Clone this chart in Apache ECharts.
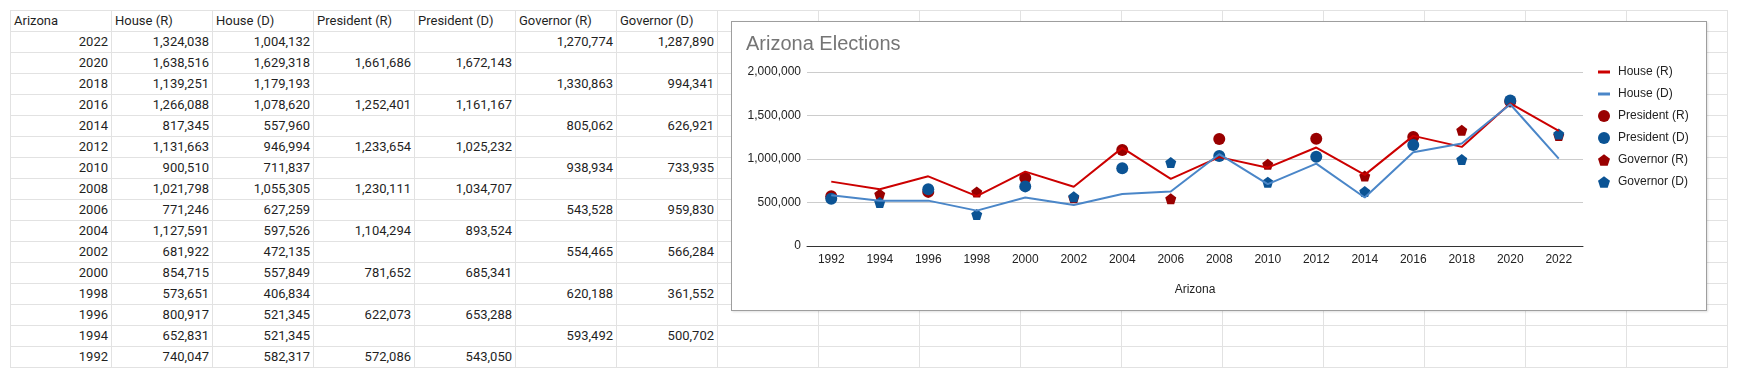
<!DOCTYPE html>
<html>
<head>
<meta charset="utf-8">
<script src="https://cdn.jsdelivr.net/npm/echarts@6/dist/echarts.min.js"></script>
<style>
  html, body { margin: 0; padding: 0; background: #fff; }
  body { width: 1738px; height: 378px; position: relative; overflow: hidden; }
  #sheet { position: absolute; left: 10px; top: 10px; border-left: 1px solid #e2e2e2; border-top: 1px solid #e2e2e2; }
  .cell { position: absolute; box-sizing: border-box; width: 101px; height: 21px;
          border-right: 1px solid #e2e2e2; border-bottom: 1px solid #e2e2e2;
          font-family: Roboto, "Liberation Sans", sans-serif; font-size: 13px; line-height: 20px;
          color: #1f1f1f; padding: 0 3px; white-space: nowrap; overflow: hidden; }
  .num { text-align: right; }
  #chartBox { position: absolute; left: 731px; top: 21px; width: 976px; height: 290px;
              box-sizing: border-box; border: 1px solid #9e9e9e; background: #fff;
              box-shadow: 1px 1px 2px rgba(0,0,0,0.12); }
  #chart { width: 974px; height: 288px; }
</style>
</head>
<body>
<div id="sheet"></div>
<div id="chartBox"><div id="chart"></div></div>
<script>
// ---- data ----
const headers = ['Arizona', 'House (R)', 'House (D)', 'President (R)', 'President (D)', 'Governor (R)', 'Governor (D)'];
const years = ['1992','1994','1996','1998','2000','2002','2004','2006','2008','2010','2012','2014','2016','2018','2020','2022'];
const houseR = [740047, 652831, 800917, 573651, 854715, 681922, 1127591, 771246, 1021798, 900510, 1131663, 817345, 1266088, 1139251, 1638516, 1324038];
const houseD = [582317, 521345, 521345, 406834, 557849, 472135, 597526, 627259, 1055305, 711837, 946994, 557960, 1078620, 1179193, 1629318, 1004132];
const presR  = [572086, null, 622073, null, 781652, null, 1104294, null, 1230111, null, 1233654, null, 1252401, null, 1661686, null];
const presD  = [543050, null, 653288, null, 685341, null, 893524, null, 1034707, null, 1025232, null, 1161167, null, 1672143, null];
const govR   = [null, 593492, null, 620188, null, 554465, null, 543528, null, 938934, null, 805062, null, 1330863, null, 1270774];
const govD   = [null, 500702, null, 361552, null, 566284, null, 959830, null, 733935, null, 626921, null, 994341, null, 1287890];
const yTicks = [0, 500000, 1000000, 1500000, 2000000];

// ---- spreadsheet grid ----
const sheet = document.getElementById('sheet');
const nCols = 17, nRows = 17;
const fmt = v => (v === null || v === undefined) ? '' : v.toLocaleString('en-US');
const cols = [houseR, houseD, presR, presD, govR, govD];
for (let r = 0; r < nRows; r++) {
  for (let c = 0; c < nCols; c++) {
    const d = document.createElement('div');
    d.className = 'cell';
    d.style.left = (c * 101) + 'px';
    d.style.top = (r * 21) + 'px';
    let text = '';
    if (r === 0) {
      if (c < headers.length) text = headers[c];
    } else if (c < 7) {
      const idx = years.length - r; // descending years
      d.classList.add('num');
      text = c === 0 ? years[idx] : fmt(cols[c - 1][idx]);
    }
    d.textContent = text;
    sheet.appendChild(d);
  }
}
sheet.style.width = (nCols * 101) + 'px';
sheet.style.height = (nRows * 21) + 'px';

// ---- chart ----
const RED_LINE = '#cc0000', BLUE_LINE = '#4a86c8', RED_M = '#990000', BLUE_M = '#0b5394';
const pent = 'path://M50,0 L97.55,34.55 L79.39,90.45 L20.61,90.45 L2.45,34.55 Z';
const bar = 'path://M0,0 L12,0 L12,3 L0,3 Z';
const FONT = '"Liberation Sans", Arial, sans-serif';

const chart = echarts.init(document.getElementById('chart'), null, { renderer: 'canvas' });
chart.setOption({
  animation: false,
  backgroundColor: '#fff',
  textStyle: { fontFamily: FONT },
  title: {
    text: 'Arizona Elections', left: 14, top: 12, padding: 0,
    textStyle: { fontFamily: FONT, fontSize: 20, fontWeight: 'normal', color: '#757575' }
  },
  legend: {
    orient: 'vertical', left: 866, top: 44, padding: 0,
    itemWidth: 12, itemHeight: 12, itemGap: 10,
    textStyle: { fontFamily: FONT, fontSize: 12, color: '#222', padding: [0, 0, 0, 3] },
    data: [
      { name: 'House (R)', icon: bar },
      { name: 'House (D)', icon: bar },
      { name: 'President (R)', icon: 'circle' },
      { name: 'President (D)', icon: 'circle' },
      { name: 'Governor (R)', icon: pent },
      { name: 'Governor (D)', icon: pent }
    ]
  },
  grid: { left: 75, top: 50, width: 776, height: 174, containLabel: false },
  xAxis: {
    type: 'category', data: years, boundaryGap: true,
    name: 'Arizona', nameLocation: 'middle', nameGap: 38,
    nameTextStyle: { fontFamily: FONT, fontSize: 12, color: '#222' },
    axisLine: { lineStyle: { color: '#333', width: 1 } },
    axisTick: { show: false },
    axisLabel: { fontFamily: FONT, fontSize: 12, color: '#222', margin: 8, interval: 0 }
  },
  yAxis: {
    type: 'value', min: yTicks[0], max: yTicks[yTicks.length - 1], interval: yTicks[1] - yTicks[0],
    axisLine: { show: false }, axisTick: { show: false },
    splitLine: { lineStyle: { color: '#cccccc', width: 1 } },
    axisLabel: { fontFamily: FONT, fontSize: 12, color: '#222', margin: 6,
                 formatter: v => v.toLocaleString('en-US') }
  },
  series: [
    { name: 'House (R)', type: 'line', data: houseR, symbol: 'none',
      itemStyle: { color: RED_LINE }, lineStyle: { color: RED_LINE, width: 2 } },
    { name: 'House (D)', type: 'line', data: houseD, symbol: 'none',
      itemStyle: { color: BLUE_LINE }, lineStyle: { color: BLUE_LINE, width: 2 } },
    { name: 'President (R)', type: 'scatter', data: presR, symbol: 'circle', symbolSize: 12,
      itemStyle: { color: RED_M, opacity: 1 } },
    { name: 'President (D)', type: 'scatter', data: presD, symbol: 'circle', symbolSize: 12,
      itemStyle: { color: BLUE_M, opacity: 1 } },
    { name: 'Governor (R)', type: 'scatter', data: govR, symbol: pent, symbolSize: 11,
      itemStyle: { color: RED_M, opacity: 1 } },
    { name: 'Governor (D)', type: 'scatter', data: govD, symbol: pent, symbolSize: 11,
      itemStyle: { color: BLUE_M, opacity: 1 } }
  ]
});
</script>
</body>
</html>
